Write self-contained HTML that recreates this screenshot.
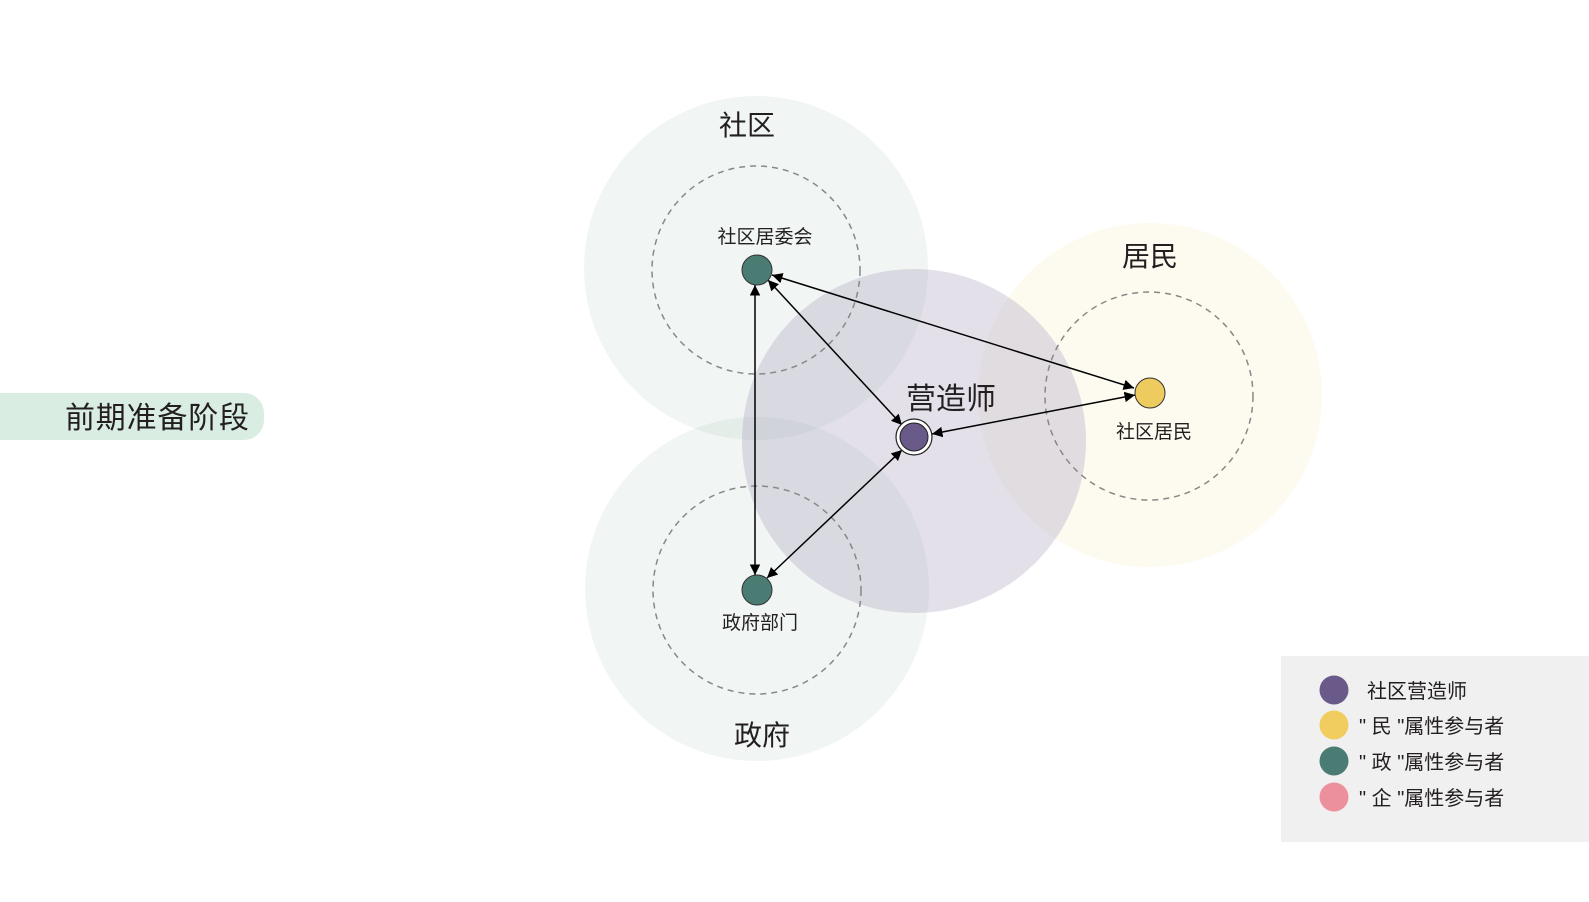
<!DOCTYPE html>
<html><head><meta charset="utf-8"><style>
body{margin:0;width:1589px;height:902px;background:#fff;overflow:hidden;font-family:"Liberation Sans","Noto Sans CJK SC",sans-serif;}
</style></head><body>
<svg width="1589" height="902" xmlns="http://www.w3.org/2000/svg" style="position:absolute;left:0;top:0">
<defs>
<marker id="a" viewBox="0 0 10 10" refX="10" refY="5" markerWidth="7" markerHeight="7" orient="auto-start-reverse"><path d="M0,0L10,5L0,10z" fill="#000"/></marker>
</defs>
<rect x="-20" y="393" width="284" height="47" rx="20" fill="#d9ede2"/>
<text x="65" y="428" font-size="30" letter-spacing="0.8" fill="#231f20">前期准备阶段</text>
<circle cx="1150" cy="395" r="172" fill="#fbf6e6" fill-opacity="0.6"/>
<circle cx="756" cy="268" r="172" fill="#b8cbc3" fill-opacity="0.2"/>
<circle cx="757" cy="589" r="172" fill="#b8cbc3" fill-opacity="0.2"/>
<circle cx="914" cy="441" r="172" fill="#9c90b3" fill-opacity="0.28"/>
<g fill="none" stroke="#888" stroke-width="1.5" stroke-dasharray="6,5">
<circle cx="756" cy="270" r="104"/>
<circle cx="757" cy="590" r="104"/>
<circle cx="1149" cy="396" r="104"/>
</g>
<g stroke="#000" stroke-width="1.5" marker-start="url(#a)" marker-end="url(#a)">
<line x1="755" y1="285" x2="755" y2="575"/>
<line x1="768" y1="280" x2="902" y2="425"/>
<line x1="772" y1="275" x2="1134" y2="388"/>
<line x1="932" y1="434" x2="1135" y2="395"/>
<line x1="902" y1="450" x2="767" y2="578"/>
</g>
<circle cx="757" cy="270" r="15" fill="#4a7c74" stroke="#333" stroke-width="1"/>
<circle cx="757" cy="590" r="15" fill="#4a7c74" stroke="#333" stroke-width="1"/>
<circle cx="1150" cy="393" r="15" fill="#eecb5f" stroke="#333" stroke-width="1"/>
<circle cx="914" cy="437" r="18" fill="#fff" stroke="#222" stroke-width="1.2"/>
<circle cx="914" cy="437" r="14" fill="#695a8a" stroke="#222" stroke-width="1"/>
<g fill="#231f20" text-anchor="middle">
<text x="747" y="135" font-size="28">社区</text>
<text x="1150" y="266" font-size="28">居民</text>
<text x="762" y="745" font-size="28">政府</text>
<text x="951" y="409" font-size="30">营造师</text>
<text x="765" y="243" font-size="19">社区居委会</text>
<text x="760" y="629" font-size="19">政府部门</text>
<text x="1154" y="438" font-size="19">社区居民</text>
</g>
<rect x="1281" y="656" width="308" height="186" fill="#f0f0f0"/>
<circle cx="1334" cy="690" r="14.5" fill="#695a8a"/>
<circle cx="1334" cy="725" r="14.5" fill="#f1cd60"/>
<circle cx="1334" cy="761" r="14.5" fill="#4a7c74"/>
<circle cx="1334" cy="797" r="14.5" fill="#ec909d"/>
<g font-size="20" fill="#231f20" xml:space="preserve">
<text x="1367" y="698">社区营造师</text>
<text x="1359" y="733">" 民 "属性参与者</text>
<text x="1359" y="769">" 政 "属性参与者</text>
<text x="1359" y="805">" 企 "属性参与者</text>
</g>
</svg>
</body></html>
